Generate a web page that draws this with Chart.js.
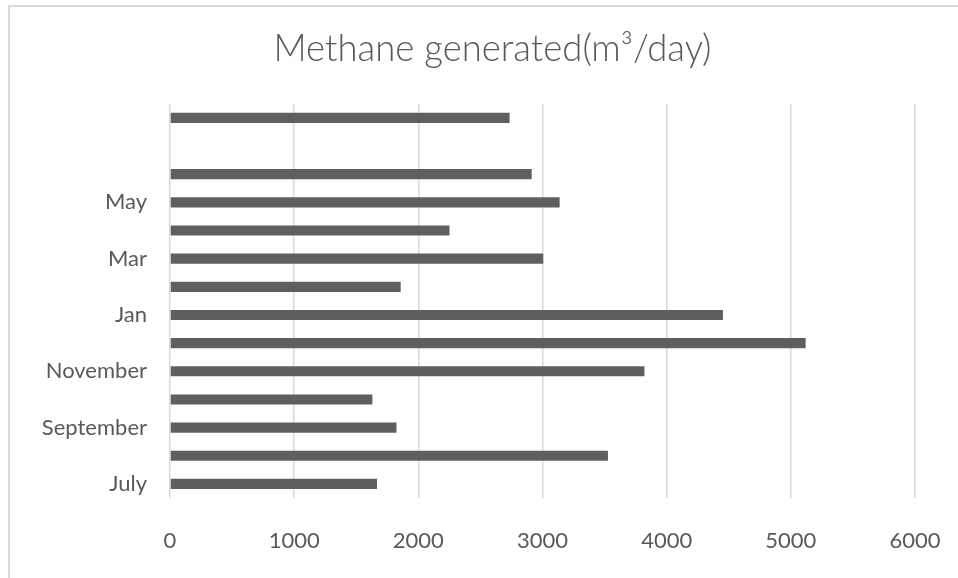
<!DOCTYPE html>
<html>
<head>
<meta charset="utf-8">
<script src="https://cdn.jsdelivr.net/npm/chart.js@4.4.1/dist/chart.umd.min.js"></script>
<style>
  html, body { margin: 0; padding: 0; background: #fff; }
  #wrap { position: relative; width: 958px; height: 578px; overflow: hidden; }
  #frame { position: absolute; left: 8px; top: 5px; right: -10px; bottom: -10px;
           border-top: 2px solid #d9d9d9; border-left: 2px solid #d9d9d9; }
  canvas { position: absolute; left: 0; top: 0; }
</style>
</head>
<body>
<div id="wrap">
  <div id="frame"></div>
  <canvas id="chart" width="958" height="578"></canvas>
</div>
<script>
// categories from bottom (July) to top; last two rows have no visible label
const months = ['July', 'August', 'September', 'October', 'November', 'December',
                'Jan', 'Feb', 'Mar', 'Apr', 'May', 'Jun', '', ''];
const methane = [1667, 3527, 1824, 1630, 3821, 5119, 4453, 1858, 3006, 2251, 3138, 2913, null, 2735];
const xTicks = [0, 1000, 2000, 3000, 4000, 5000, 6000];

const titleText = 'Methane generated(m\u00B3/day)';
const textColor = '#595959';
const fontFamily = 'Lato, "Open Sans", sans-serif';

// the original title sits a bit right of the canvas centre
const shiftTitle = {
  id: 'shiftTitle',
  afterLayout(chart) {
    const t = chart.titleBlock;
    if (t) { t.left += 35; t.right += 35; }
  },
};

const ctx = document.getElementById('chart').getContext('2d');
new Chart(ctx, {
  type: 'bar',
  data: {
    labels: months,
    datasets: [{
      label: 'Methane generated',
      data: methane,
      backgroundColor: '#5f5f5f',
      categoryPercentage: 1,
      barPercentage: 0.36,
    }]
  },
  plugins: [shiftTitle],
  options: {
    responsive: false,
    animation: false,
    indexAxis: 'y',
    layout: { padding: { left: 0, right: 43, top: 0, bottom: 0 } },
    plugins: {
      legend: { display: false },
      tooltip: { enabled: false },
      title: {
        display: true,
        text: titleText,
        color: textColor,
        font: { family: fontFamily, size: 36.5, weight: 300 },
        padding: { top: 27, bottom: 33 },
      },
    },
    scales: {
      x: {
        min: 0,
        max: 6000,
        afterBuildTicks: axis => { axis.ticks = xTicks.map(v => ({ value: v })); },
        afterFit: axis => { axis.height = 80; },
        grid: { color: '#d9d9d9', lineWidth: 1.5, drawTicks: true, tickLength: 28, tickColor: 'rgba(0,0,0,0)' },
        border: { display: false },
        ticks: {
          color: textColor,
          padding: 2,
          font: { family: fontFamily, size: 22 },
          callback: v => String(v),
        },
      },
      y: {
        reverse: true,
        afterFit: axis => { axis.width = 170; },
        grid: { display: false, drawTicks: false },
        border: { display: false },
        ticks: {
          autoSkip: false,
          color: textColor,
          padding: 23,
          font: { family: fontFamily, size: 22 },
          callback: function (val, i) { return i % 2 === 0 ? this.getLabelForValue(val) : ''; },
        },
      },
    },
  },
});
</script>
</body>
</html>
